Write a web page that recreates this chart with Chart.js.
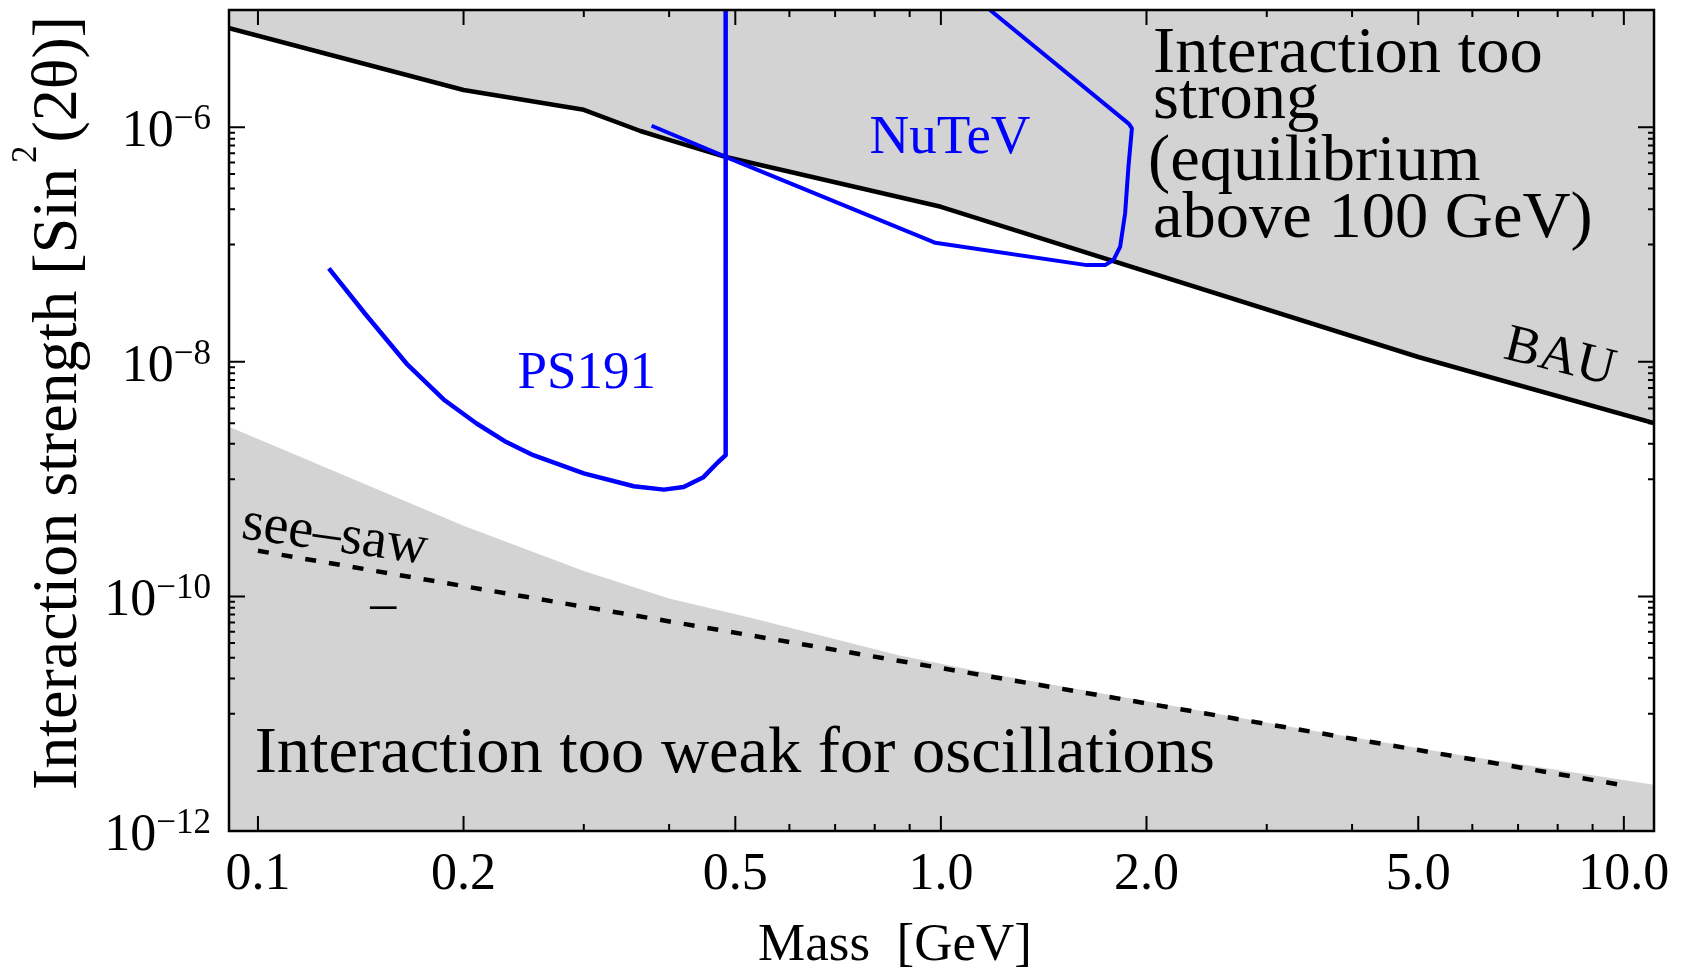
<!DOCTYPE html>
<html>
<head>
<meta charset="utf-8">
<title>Interaction strength vs mass</title>
<script src="https://cdn.jsdelivr.net/npm/chart.js@4.4.1/dist/chart.umd.min.js"></script>
<style>
  html, body { margin: 0; padding: 0; background: #fff; }
  canvas { display: block; }
</style>
</head>
<body>
<canvas id="chart" width="1686" height="969"></canvas>
<script>
const SERIF = "'Liberation Serif', 'Times New Roman', serif";
const GRAY = '#d3d3d3';
const BLUE = '#0000ff';

// axis ranges: mass [GeV] and sin^2(2 theta)
const X_MIN = 0.0907, X_MAX = 11.07;
const Y_MIN = 1e-12, Y_MAX = 1e-5;

const X_MAJOR = [0.1, 0.2, 0.5, 1, 2, 5, 10];
const X_LABELS = ['0.1', '0.2', '0.5', '1.0', '2.0', '5.0', '10.0'];
const X_MINOR = [0.3, 0.4, 0.6, 0.7, 0.8, 0.9, 3, 4, 6, 7, 8, 9];
const Y_MAJOR_EXP = [-12, -10, -8, -6];
const Y_MINOR_EXP = [-11, -9, -7]; // minor ticks at 1..9 x 10^exp

// BAU upper bound (region above is shaded)
const bauX = [0.09, 0.2, 0.3, 0.363, 0.4, 0.486, 1.0, 5.0, 11.2];
const bauY = [7.08e-6, 2.08e-6, 1.41e-6, 9.3e-7, 7.8e-7, 5.55e-7, 2.1e-7, 1.1e-8, 2.95e-9];

// lower shaded region: interaction too weak
const weakX = [0.09, 0.2, 0.3, 0.4, 0.53, 0.87, 1.22, 2.03, 3.37, 5.6, 11.2];
const weakY = [2.85e-9, 4.0e-10, 1.65e-10, 9.6e-11, 6.5e-11, 3.14e-11, 2.12e-11, 1.26e-11, 7.45e-12, 4.56e-12, 2.45e-12];

// see-saw line
const seesawX = [0.1, 10];
const seesawY = [2.45e-10, 2.45e-12];

// PS191 exclusion contour
const ps191X = [0.127, 0.144, 0.165, 0.187, 0.209, 0.231, 0.253, 0.300, 0.355, 0.393, 0.420, 0.449, 0.472, 0.484, 0.484];
const ps191Y = [6.27e-8, 2.51e-8, 9.68e-9, 4.78e-9, 2.98e-9, 2.07e-9, 1.60e-9, 1.12e-9, 8.69e-10, 8.14e-10, 8.57e-10, 1.04e-9, 1.40e-9, 1.6e-9, 1e-5];

// NuTeV exclusion contour
const nutevX = [0.377, 0.486, 0.964, 0.981, 1.635, 1.739, 1.789, 1.830, 1.861, 1.882, 1.904, 1.885, 1.18];
const nutevY = [1.03e-6, 5.54e-7, 1.08e-7, 1.035e-7, 6.68e-8, 6.68e-8, 7.38e-8, 9.58e-8, 1.85e-7, 4.61e-7, 9.8e-7, 1.07e-6, 1e-5];

const pts = (xs, ys) => xs.map((x, i) => ({ x, y: ys[i] }));

function drawPower(ctx, exp, right, py) {
  const sup = '\u2212' + Math.abs(exp);
  ctx.font = `35px ${SERIF}`;
  const ws = ctx.measureText(sup).width;
  ctx.fillText(sup, right - ws, py + 2);
  ctx.font = `52px ${SERIF}`;
  const wb = ctx.measureText('10').width;
  ctx.fillText('10', right - ws - wb, py + 19);
}

function rotatedText(ctx, text, x, y, deg, font, color) {
  ctx.save();
  ctx.translate(x, y);
  ctx.rotate(deg * Math.PI / 180);
  ctx.font = font;
  ctx.fillStyle = color;
  ctx.fillText(text, 0, 0);
  ctx.restore();
}

const framePlugin = {
  id: 'frame',
  afterDatasetsDraw(chart) {
    const { ctx, chartArea: a, scales: { x, y } } = chart;
    const X = v => x.getPixelForValue(v);
    const Y = v => y.getPixelForValue(v);
    ctx.save();

    // inward ticks on all four sides
    ctx.strokeStyle = '#000';
    ctx.lineWidth = 2;
    ctx.beginPath();
    const xt = (v, len) => {
      const p = X(v);
      ctx.moveTo(p, a.bottom); ctx.lineTo(p, a.bottom - len);
      ctx.moveTo(p, a.top); ctx.lineTo(p, a.top + len);
    };
    const yt = (v, len) => {
      const p = Y(v);
      ctx.moveTo(a.left, p); ctx.lineTo(a.left + len, p);
      ctx.moveTo(a.right, p); ctx.lineTo(a.right - len, p);
    };
    X_MAJOR.forEach(v => xt(v, 15));
    X_MINOR.forEach(v => xt(v, 7));
    Y_MAJOR_EXP.forEach(e => yt(Math.pow(10, e), 16));
    Y_MINOR_EXP.forEach(e => { for (let k = 1; k <= 9; k++) yt(k * Math.pow(10, e), 6); });
    ctx.stroke();
    ctx.lineWidth = 2.5;
    ctx.strokeRect(a.left, a.top, a.right - a.left, a.bottom - a.top);

    // tick labels
    ctx.fillStyle = '#000';
    ctx.textBaseline = 'alphabetic';
    ctx.textAlign = 'center';
    ctx.font = `52px ${SERIF}`;
    X_MAJOR.forEach((v, i) => ctx.fillText(X_LABELS[i], X(v), a.bottom + 58));
    ctx.textAlign = 'left';
    Y_MAJOR_EXP.forEach(e => drawPower(ctx, e, a.left - 18, Y(Math.pow(10, e))));

    // axis titles
    ctx.textAlign = 'center';
    ctx.font = `53px ${SERIF}`;
    ctx.fillText('Mass  [GeV]', a.left + 666, a.bottom + 129);

    ctx.save();
    ctx.translate(76, 790);
    ctx.rotate(-Math.PI / 2);
    ctx.textAlign = 'left';
    ctx.font = `64px ${SERIF}`;
    const t1 = 'Interaction strength [Sin';
    ctx.fillText(t1, 0, 0);
    let off = ctx.measureText(t1).width + 5;
    ctx.font = `35px ${SERIF}`;
    ctx.fillText('2', off, -40);
    off += ctx.measureText('2').width + 3;
    ctx.font = `64px ${SERIF}`;
    ctx.fillText('(2\u03b8)]', off, 0);
    ctx.restore();

    // region annotations
    ctx.textAlign = 'left';
    ctx.font = `66.5px ${SERIF}`;
    const sx = X(2.045);
    ctx.fillText('Interaction too', sx, Y(2.98e-6));
    ctx.fillText('strong', sx, Y(1.19e-6));
    ctx.fillText('(equilibrium', sx - 5, Y(3.55e-7));
    ctx.fillText('above 100 GeV)', sx, Y(1.17e-7));
    ctx.fillText('Interaction too weak for oscillations', X(0.0989), Y(3.18e-12));

    ctx.fillStyle = BLUE;
    ctx.font = `53px ${SERIF}`;
    ctx.fillText('PS191', X(0.24), Y(6.0e-9));
    ctx.font = `55px ${SERIF}`;
    ctx.fillText('NuTeV', X(0.786), Y(6.0e-7));

    rotatedText(ctx, 'BAU', X(6.63), Y(1.08e-8), 14, `53px ${SERIF}`, '#000');
    rotatedText(ctx, 'see\u2013saw', X(0.0942), Y(2.64e-10) - 9, 8, `56px ${SERIF}`, '#000');
    ctx.fillStyle = '#000';
    ctx.textAlign = 'center';
    ctx.font = `52px ${SERIF}`;
    ctx.fillText('\u2013', X(0.1526), Y(8.2e-11) + 13);

    ctx.restore();
  }
};

new Chart(document.getElementById('chart'), {
  type: 'line',
  data: {
    datasets: [
      { label: 'PS191', data: pts(ps191X, ps191Y), borderColor: BLUE, borderWidth: 4.5, fill: false },
      { label: 'NuTeV', data: pts(nutevX, nutevY), borderColor: BLUE, borderWidth: 4, fill: false },
      { label: 'see-saw', data: pts(seesawX, seesawY), borderColor: '#000', borderWidth: 4.5, borderDash: [11, 13], fill: false },
      { label: 'BAU', data: pts(bauX, bauY), borderColor: '#000', borderWidth: 4.5, backgroundColor: GRAY, fill: 'end' },
      { label: 'too weak', data: pts(weakX, weakY), borderColor: 'rgba(0,0,0,0)', borderWidth: 0, backgroundColor: GRAY, fill: 'start' }
    ]
  },
  options: {
    responsive: false,
    animation: false,
    layout: { padding: { left: 229, top: 10, right: 32, bottom: 138 } },
    elements: { point: { radius: 0 }, line: { tension: 0, borderJoinStyle: 'round' } },
    plugins: { legend: { display: false }, tooltip: { enabled: false } },
    scales: {
      x: { type: 'logarithmic', min: X_MIN, max: X_MAX, display: false },
      y: { type: 'logarithmic', min: Y_MIN, max: Y_MAX, display: false }
    }
  },
  plugins: [framePlugin]
});
</script>
</body>
</html>
